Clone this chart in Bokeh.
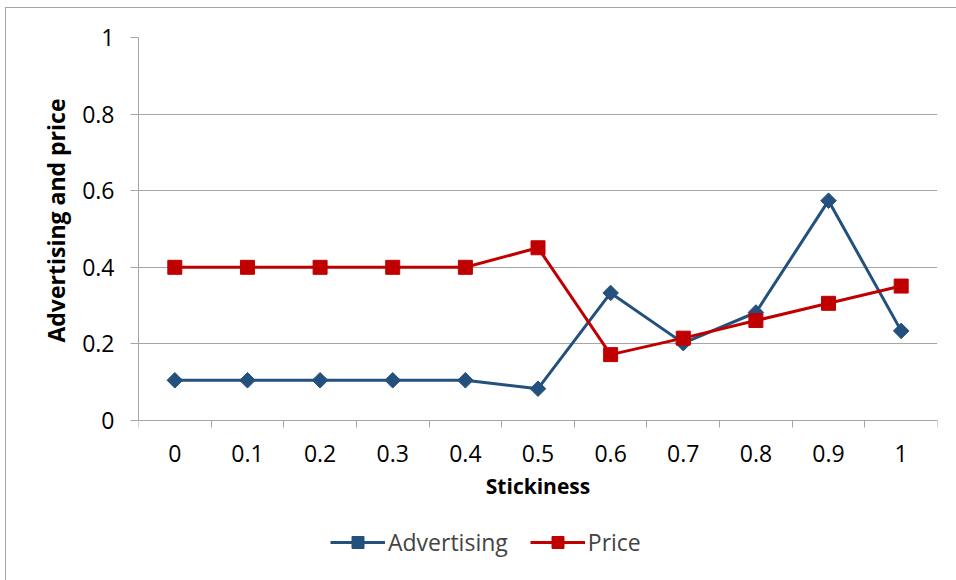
from bokeh.plotting import figure
from bokeh.models import (FixedTicker, CustomJSTickFormatter, Legend, LegendItem, Range1d, Title)
from bokeh.embed import file_html
from bokeh.resources import INLINE

# Stickiness levels (x categories)
stickiness = ["0", "0.1", "0.2", "0.3", "0.4", "0.5", "0.6", "0.7", "0.8", "0.9", "1"]
# Series values
advertising = [0.105, 0.105, 0.105, 0.105, 0.105, 0.083, 0.333, 0.202, 0.282, 0.574, 0.234]
price = [0.400, 0.400, 0.400, 0.400, 0.400, 0.451, 0.172, 0.215, 0.261, 0.306, 0.351]
y_ticks = [0, 0.2, 0.4, 0.6, 0.8, 1]

FONT = "Open Sans"
BLUE = "#23507C"
RED = "#C00000"
GRID = "#A6A6A6"

xs = list(range(len(stickiness)))

# The plotting frame runs to the bottom of the canvas: values 0..1 use the top
# 383px, the space under y=0 holds the x axis labels and the legend.
TOP, BOTTOM_SPACE, VALUE_PX = 37, 160, 383
p = figure(width=956, height=580, output_backend="svg", toolbar_location=None,
           x_range=Range1d(-0.5, len(stickiness) - 0.5),
           y_range=Range1d(-BOTTOM_SPACE / VALUE_PX, 1),
           min_border_left=138, min_border_right=19, min_border_top=TOP,
           min_border_bottom=0)
p.outline_line_color = None
p.background_fill_color = "white"
p.border_fill_alpha = 0
# thin grey edge of the chart area, 5px in from the left and 7px down
p.styles = {"background": "linear-gradient(#A6A6A6, #A6A6A6) 5px 7px / 1px 100% no-repeat, "
                          "linear-gradient(#A6A6A6, #A6A6A6) 5px 7px / 100% 1px no-repeat, "
                          "#ffffff"}

# x axis sits on y = 0: labels at category centres, tick marks at boundaries
p.xaxis.fixed_location = 0
p.xaxis.ticker = FixedTicker(ticks=xs, minor_ticks=[i - 0.5 for i in range(len(stickiness) + 1)])
p.xaxis.major_label_overrides = {i: s for i, s in enumerate(stickiness)}
p.xaxis.major_tick_line_color = None
p.xaxis.minor_tick_in = 0
p.xaxis.minor_tick_out = 7
p.xaxis.minor_tick_line_color = GRID
p.xaxis.axis_line_color = GRID
p.xaxis.major_label_standoff = 17
p.xaxis.axis_label = "Stickiness"
p.xaxis.axis_label_standoff = 7
p.xgrid.grid_line_color = None

# y axis (line limited to the 0..1 value span)
p.yaxis.bounds = (0, 1)
p.yaxis.ticker = FixedTicker(ticks=y_ticks, minor_ticks=[])
p.yaxis.formatter = CustomJSTickFormatter(code="return String(Math.round(tick * 10) / 10);")
p.yaxis.major_tick_in = 0
p.yaxis.major_tick_out = 8
p.yaxis.major_tick_line_color = GRID
p.yaxis.axis_line_color = GRID
p.yaxis.major_label_standoff = 16
p.ygrid.grid_line_color = GRID
p.ygrid.ticker = FixedTicker(ticks=y_ticks)

for ax in (p.xaxis, p.yaxis):
    ax.major_label_text_font = FONT
    ax.major_label_text_font_size = "23px"
    ax.major_label_text_color = "black"
    ax.axis_label_text_font = FONT
    ax.axis_label_text_font_style = "bold"
    ax.axis_label_text_color = "black"
p.xaxis.axis_label_text_font_size = "21px"

# y axis title, centred on the 0..1 value span rather than the whole frame
p.add_layout(Title(text="Advertising and price", align="right", offset=61,
                   vertical_align="bottom", standoff=15, text_font=FONT,
                   text_font_size="23px", text_font_style="bold",
                   text_color="black"), "left")

# series
adv_line = p.line(xs, advertising, line_color=BLUE, line_width=3)
adv_mark = p.scatter(xs, advertising, marker="square", angle=0.7854, size=11,
                     fill_color=BLUE, line_color=BLUE)
pr_line = p.line(xs, price, line_color=RED, line_width=3)
pr_mark = p.scatter(xs, price, marker="square", size=14, fill_color=RED, line_color=RED)

legend = Legend(items=[LegendItem(label="Advertising", renderers=[adv_line, adv_mark]),
                       LegendItem(label="Price", renderers=[pr_line, pr_mark])],
                orientation="horizontal", location=(192, 22),
                glyph_width=55, glyph_height=30, label_text_font=FONT,
                label_text_font_size="23px", spacing=22, padding=0, margin=0,
                border_line_color=None, background_fill_alpha=0, label_standoff=3)
p.add_layout(legend, "center")

open("out.html", "w").write(file_html(p, INLINE))
